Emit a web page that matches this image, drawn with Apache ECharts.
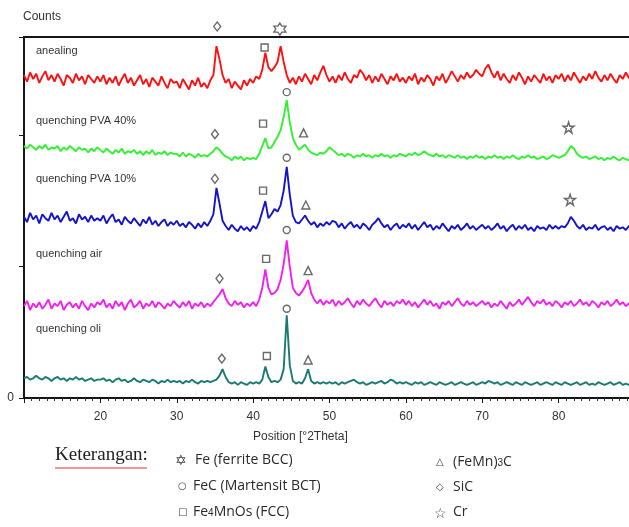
<!DOCTYPE html>
<html>
<head>
<meta charset="utf-8">
<script src="https://cdn.jsdelivr.net/npm/echarts@6.0.0/dist/echarts.min.js"></script>
<style>
  html, body { margin: 0; padding: 0; background: #fff; }
  #chart { width: 629px; height: 527px; }
</style>
</head>
<body>
<div id="chart"></div>
<script>
// scan settings (deg 2Theta)
const startAngle = 10
const stepAngle = 0.4

// counts, one row per 10 degrees
const anealing = [
  246, 241, 248, 243, 247, 240, 245, 249, 242, 246, 241, 247, 243, 238, 246, 244, 240, 247, 242, 245, 239, 246, 243, 240, 245,
  241, 246, 239, 244, 240, 245, 238, 243, 247, 240, 244, 238, 242, 246, 239, 243, 237, 244, 241, 238, 245, 240, 236, 243, 240,
  241, 236, 243, 239, 235, 242, 238, 244, 237, 240, 236, 242, 246, 268, 258, 246, 240, 243, 236, 241, 238, 235, 242, 238, 243,
  240, 245, 243, 250, 263, 252, 249, 252, 256, 268, 256, 246, 240, 244, 239, 245, 241, 247, 243, 239, 246, 242, 248, 253, 246,
  241, 245, 240, 246, 242, 248, 243, 240, 246, 244, 250, 247, 242, 246, 240, 245, 241, 247, 243, 239, 245, 242, 247, 241, 244,
  240, 245, 242, 247, 239, 244, 241, 246, 243, 238, 245, 242, 247, 240, 244, 249, 245, 241, 246, 243, 248, 244, 246, 250, 247,
  245, 251, 254, 248, 244, 249, 242, 247, 243, 240, 246, 242, 248, 244, 239, 245, 241, 246, 243, 240, 247, 242, 245, 240, 246,
  243, 247, 241, 246, 242, 248, 244, 240, 245, 242, 247, 243, 249, 244, 241, 246, 242, 247, 243, 240, 246, 243, 248, 244, 241,
  245
]
const pva40 = [
  192, 190, 193, 191, 189, 192, 190, 193, 189, 191, 190, 192, 188, 191, 189, 192, 190, 188, 191, 189, 190, 187, 190, 188, 191,
  189, 187, 190, 188, 186, 189, 187, 190, 186, 188, 187, 189, 186, 188, 185, 188, 186, 189, 185, 187, 186, 188, 185, 187, 186,
  186, 184, 187, 184, 186, 185, 183, 186, 184, 185, 184, 186, 188, 191, 189, 186, 184, 183, 181, 184, 182, 184, 181, 183, 182,
  183, 182, 186, 192, 198, 190, 191, 195, 199, 204, 214, 227, 210, 198, 193, 189, 191, 193, 189, 187, 186, 185, 187, 186, 188,
  191, 189, 187, 185, 186, 184, 186, 185, 183, 185, 184, 186, 184, 185, 183, 185, 184, 186, 184, 185, 183, 185, 184, 186, 185,
  184, 186, 185, 187, 185, 186, 188, 186, 185, 184, 186, 184, 185, 183, 185, 184, 183, 185, 183, 184, 182, 184, 183, 185, 183,
  184, 182, 184, 183, 185, 183, 184, 182, 184, 183, 185, 183, 182, 184, 183, 185, 183, 184, 182, 183, 184, 182, 183, 185, 184,
  183, 184, 185, 188, 192, 190, 186, 184, 183, 184, 182, 183, 184, 182, 183, 181, 183, 182, 184, 182, 181, 183, 182, 181, 183,
  182
]
const pva10 = [
  138, 134, 141, 136, 139, 133, 140, 137, 135, 141, 136, 139, 134, 138, 142, 135, 137, 133, 140, 136, 138, 134, 139, 135, 137,
  135, 139, 133, 137, 140, 134, 136, 132, 138, 135, 133, 137, 134, 131, 136, 133, 138, 132, 135, 131, 134, 136, 131, 134, 132,
  135, 131, 133, 130, 134, 132, 129, 133, 130, 134, 131, 135, 140, 160, 148, 135, 131, 128, 132, 129, 127, 131, 128, 130, 127,
  131, 129, 134, 142, 150, 137, 140, 144, 142, 147, 158, 176, 155, 139, 134, 133, 136, 139, 135, 132, 134, 130, 133, 131, 134,
  132, 135, 134, 130, 133, 129, 132, 134, 130, 132, 129, 133, 131, 128, 132, 134, 137, 133, 130, 132, 128, 131, 133, 129, 132,
  130, 133, 129, 132, 128, 131, 134, 130, 132, 128, 131, 129, 133, 130, 127, 131, 129, 132, 128, 130, 133, 129, 131, 128, 130,
  132, 129, 131, 128, 130, 133, 129, 131, 127, 130, 132, 128, 131, 129, 132, 128, 130, 127, 131, 129, 130, 128, 132, 129, 131,
  129, 131, 130, 133, 138, 135, 131, 129, 132, 128, 130, 129, 132, 128, 130, 131, 128, 130, 127, 131, 129, 130, 128, 131, 129,
  130
]
const air = [
  70, 74, 67, 72, 69, 73, 68, 71, 75, 68, 72, 70, 74, 67, 71, 73, 69, 72, 68, 74, 70, 67, 72, 69, 73,
  71, 75, 69, 72, 68, 74, 70, 73, 67, 72, 75, 69, 71, 74, 68, 72, 70, 74, 69, 73, 71, 68, 72, 70, 74,
  71, 69, 73, 70, 74, 68, 72, 70, 73, 69, 72, 70, 73, 76, 79, 83, 76, 72, 70, 74, 71, 73, 69, 72, 70,
  73, 70, 75, 84, 98, 84, 79, 80, 83, 90, 102, 120, 100, 84, 80, 78, 81, 85, 90, 80, 75, 72, 75, 71, 74,
  72, 75, 70, 74, 71, 73, 76, 72, 69, 74, 71, 75, 72, 70, 73, 76, 72, 69, 74, 71, 73, 70, 74, 72, 75,
  71, 74, 70, 73, 69, 72, 75, 71, 74, 70, 72, 68, 73, 71, 74, 70, 73, 76, 72, 70, 74, 71, 73, 70, 72,
  74, 71, 73, 69, 72, 70, 74, 71, 68, 73, 70, 72, 75, 71, 74, 77, 73, 70, 74, 72, 75, 71, 73, 70, 74,
  72, 69, 73, 71, 74, 70, 72, 75, 71, 73, 70, 74, 72, 69, 73, 71, 74, 70, 72, 75, 71, 73, 70, 72, 74,
  72
]
const oli = [
  15, 16, 14, 15, 17, 15, 14, 16, 15, 13, 15, 16, 14, 15, 13, 15, 14, 16, 14, 15, 13, 14, 15, 13, 14,
  14, 15, 13, 14, 12, 14, 15, 13, 14, 12, 13, 15, 13, 12, 14, 13, 12, 14, 13, 11, 13, 12, 14, 12, 13,
  12, 13, 11, 13, 12, 14, 12, 11, 13, 12, 13, 12, 13, 14, 17, 22, 16, 12, 11, 12, 10, 12, 11, 10, 12,
  11, 12, 11, 14, 24, 16, 12, 13, 12, 14, 22, 63, 25, 13, 11, 12, 11, 15, 22, 13, 11, 12, 11, 12, 11,
  12, 11, 12, 10, 12, 11, 12, 13, 14, 12, 11, 12, 10, 11, 12, 11, 12, 13, 11, 12, 14, 13, 11, 12, 11,
  12, 11, 10, 12, 11, 12, 10, 11, 12, 11, 10, 12, 11, 10, 11, 12, 10, 11, 12, 11, 10, 11, 12, 10, 11,
  12, 11, 13, 12, 11, 12, 10, 11, 12, 11, 10, 12, 11, 10, 12, 11, 10, 11, 12, 10, 11, 12, 11, 10, 12,
  11, 10, 12, 11, 10, 11, 12, 10, 11, 12, 10, 11, 10, 12, 11, 10, 11, 12, 10, 11, 12, 10, 11, 10, 12,
  11
]

// phase markers [2Theta, height]
const feBcc = [[43.5, 281]]
const martensit = [[44.4, 233], [44.4, 183], [44.4, 128], [44.4, 68]]
const fcc = [[41.5, 267], [41.3, 209], [41.3, 158], [41.7, 106], [41.8, 32]]
const carbide = [[46.6, 202], [46.9, 147], [47.2, 97], [47.2, 29]]
const sic = [[35.3, 283], [35.0, 201], [35.0, 167], [35.6, 91], [35.9, 30]]
const cr = [[81.3, 206], [81.5, 151]]

const traceNames = ['anealing', 'quenching PVA 40%', 'quenching PVA 10%', 'quenching air', 'quenching oli']
const traceColors = ['#ff1010', '#33f033', '#1414c8', '#f020f0', '#1b7a70']
const traces = [anealing, pva40, pva10, air, oli]

const starPath = 'path://M50,2 L61,36 L97,36 L68,57 L79,92 L50,70 L21,92 L32,57 L3,36 L39,36 Z'
const hexPath = 'path://M50,0 L64.4,25 L93.3,25 L78.9,50 L93.3,75 L64.4,75 L50,100 L35.6,75 L6.7,75 L21.1,50 L6.7,25 L35.6,25 Z'

function toPoints(values) {
  return values.map((v, i) => [+(startAngle + i * stepAngle).toFixed(1), v])
}

function markerSeries(name, data, symbol, size) {
  return {
    type: 'scatter',
    name: name,
    data: data,
    symbol: symbol,
    symbolSize: size,
    clip: false,
    silent: true,
    z: 5,
    itemStyle: { color: '#fff', borderColor: '#444', borderWidth: 1.4 }
  }
}

const chart = echarts.init(document.getElementById('chart'))

const lineSeries = traces.map((vals, i) => ({
  type: 'line',
  name: traceNames[i],
  data: toPoints(vals),
  showSymbol: false,
  silent: true,
  lineStyle: { color: traceColors[i], width: 1.9 }
}))

const textColor = '#333'
const sans = '"Liberation Sans", Arial, sans-serif'
const legendFont = '14px "Open Sans", "Noto Sans", sans-serif'

// wavy spell-check underline
const wave = []
for (let x = 55; x <= 147; x += 2) wave.push([x, (x / 2) % 2 === 0 ? 466 : 468])

const labelTops = [45, 115, 173, 248, 323]

const option = {
  animation: false,
  backgroundColor: '#fff',
  grid: {
    left: 24,
    right: -6,
    top: 37,
    bottom: 129,
    containLabel: false,
    outerBoundsMode: 'none',
    show: true,
    borderColor: '#151515',
    borderWidth: 2
  },
  xAxis: {
    type: 'value',
    min: 10,
    max: 90,
    interval: 10,
    axisLine: { lineStyle: { color: '#151515', width: 2 } },
    axisTick: { show: true, inside: false, length: 5, lineStyle: { color: '#151515' } },
    minorTick: { show: true, splitNumber: 10, length: 3, lineStyle: { color: '#333' } },
    splitLine: { show: false },
    axisLabel: {
      margin: 13,
      color: textColor,
      fontSize: 12,
      fontFamily: '"Liberation Sans Narrow", ' + sans,
      formatter: (v) => (v === 10 || v === 90 ? '' : String(v))
    }
  },
  yAxis: {
    type: 'value',
    min: 0,
    max: 275,
    interval: 100,
    axisLine: { show: true, lineStyle: { color: '#151515', width: 2 } },
    axisTick: { show: true, length: 5, lineStyle: { color: '#151515' } },
    splitLine: { show: false },
    axisLabel: {
      margin: 10,
      color: textColor,
      fontSize: 12,
      fontFamily: sans,
      formatter: (v) => (v === 0 ? '0' : '')
    }
  },
  graphic: [
    { type: 'text', left: 23, top: 11, style: { text: 'Counts', font: '12px ' + sans, fill: textColor } },
    ...traceNames.map((t, i) => ({
      type: 'text', left: 36, top: labelTops[i],
      style: { text: t, font: '11px ' + sans, fill: textColor }
    })),
    { type: 'text', left: 253, top: 431, style: { text: 'Position [°2Theta]', font: '12px "Liberation Sans Narrow", ' + sans, fill: textColor } },
    { type: 'text', left: 55, top: 446, style: { text: 'Keterangan:', font: '19px "Liberation Serif", serif', fill: '#222' } },
    { type: 'polyline', shape: { points: wave }, style: { stroke: '#e03030', lineWidth: 1, fill: null } },
    { type: 'text', left: 175, top: 454, style: { text: '\u2721', font: 'bold 14px "DejaVu Sans"', fill: '#444' } },
    { type: 'text', left: 195, top: 453, style: { text: 'Fe (ferrite BCC)', font: legendFont, fill: '#2a2a2a' } },
    { type: 'text', left: 178, top: 481, style: { text: '\u25CB', font: 'bold 10px "DejaVu Sans"', fill: '#444' } },
    { type: 'text', left: 193, top: 479, style: { text: 'FeC (Martensit BCT)', font: legendFont, fill: '#2a2a2a' } },
    { type: 'text', left: 178, top: 507, style: { text: '\u25A1', font: 'bold 10px "DejaVu Sans"', fill: '#444' } },
    {
      type: 'text', left: 193, top: 505,
      style: {
        text: 'Fe{s|4}MnOs (FCC)', font: legendFont, fill: '#2a2a2a',
        rich: { s: { fontSize: 10, fill: '#2a2a2a', padding: [3, 0, 0, 0] } }
      }
    },
    { type: 'text', left: 436, top: 457, style: { text: '\u25B3', font: 'bold 10px "DejaVu Sans"', fill: '#444' } },
    {
      type: 'text', left: 453, top: 455,
      style: {
        text: '(FeMn){s|3}C', font: legendFont, fill: '#2a2a2a',
        rich: { s: { fontSize: 10, fill: '#2a2a2a', padding: [3, 0, 0, 0] } }
      }
    },
    { type: 'text', left: 436, top: 482, style: { text: '\u25C7', font: 'bold 10px "DejaVu Sans"', fill: '#444' } },
    { type: 'text', left: 453, top: 480, style: { text: 'SiC', font: legendFont, fill: '#2a2a2a' } },
    { type: 'text', left: 434, top: 507, style: { text: '\u2606', font: 'bold 14px "DejaVu Sans"', fill: '#444' } },
    { type: 'text', left: 453, top: 505, style: { text: 'Cr', font: legendFont, fill: '#2a2a2a' } }
  ],
  series: [
    ...lineSeries,
    markerSeries('Fe (ferrite BCC)', feBcc, hexPath, 12),
    markerSeries('FeC (Martensit BCT)', martensit, 'circle', 7),
    markerSeries('Fe4MnOs (FCC)', fcc, 'rect', 7),
    markerSeries('(FeMn)3C', carbide, 'triangle', 8),
    markerSeries('SiC', sic, 'diamond', [7, 9]),
    markerSeries('Cr', cr, starPath, 11)
  ]
}

chart.setOption(option)
</script>
</body>
</html>
